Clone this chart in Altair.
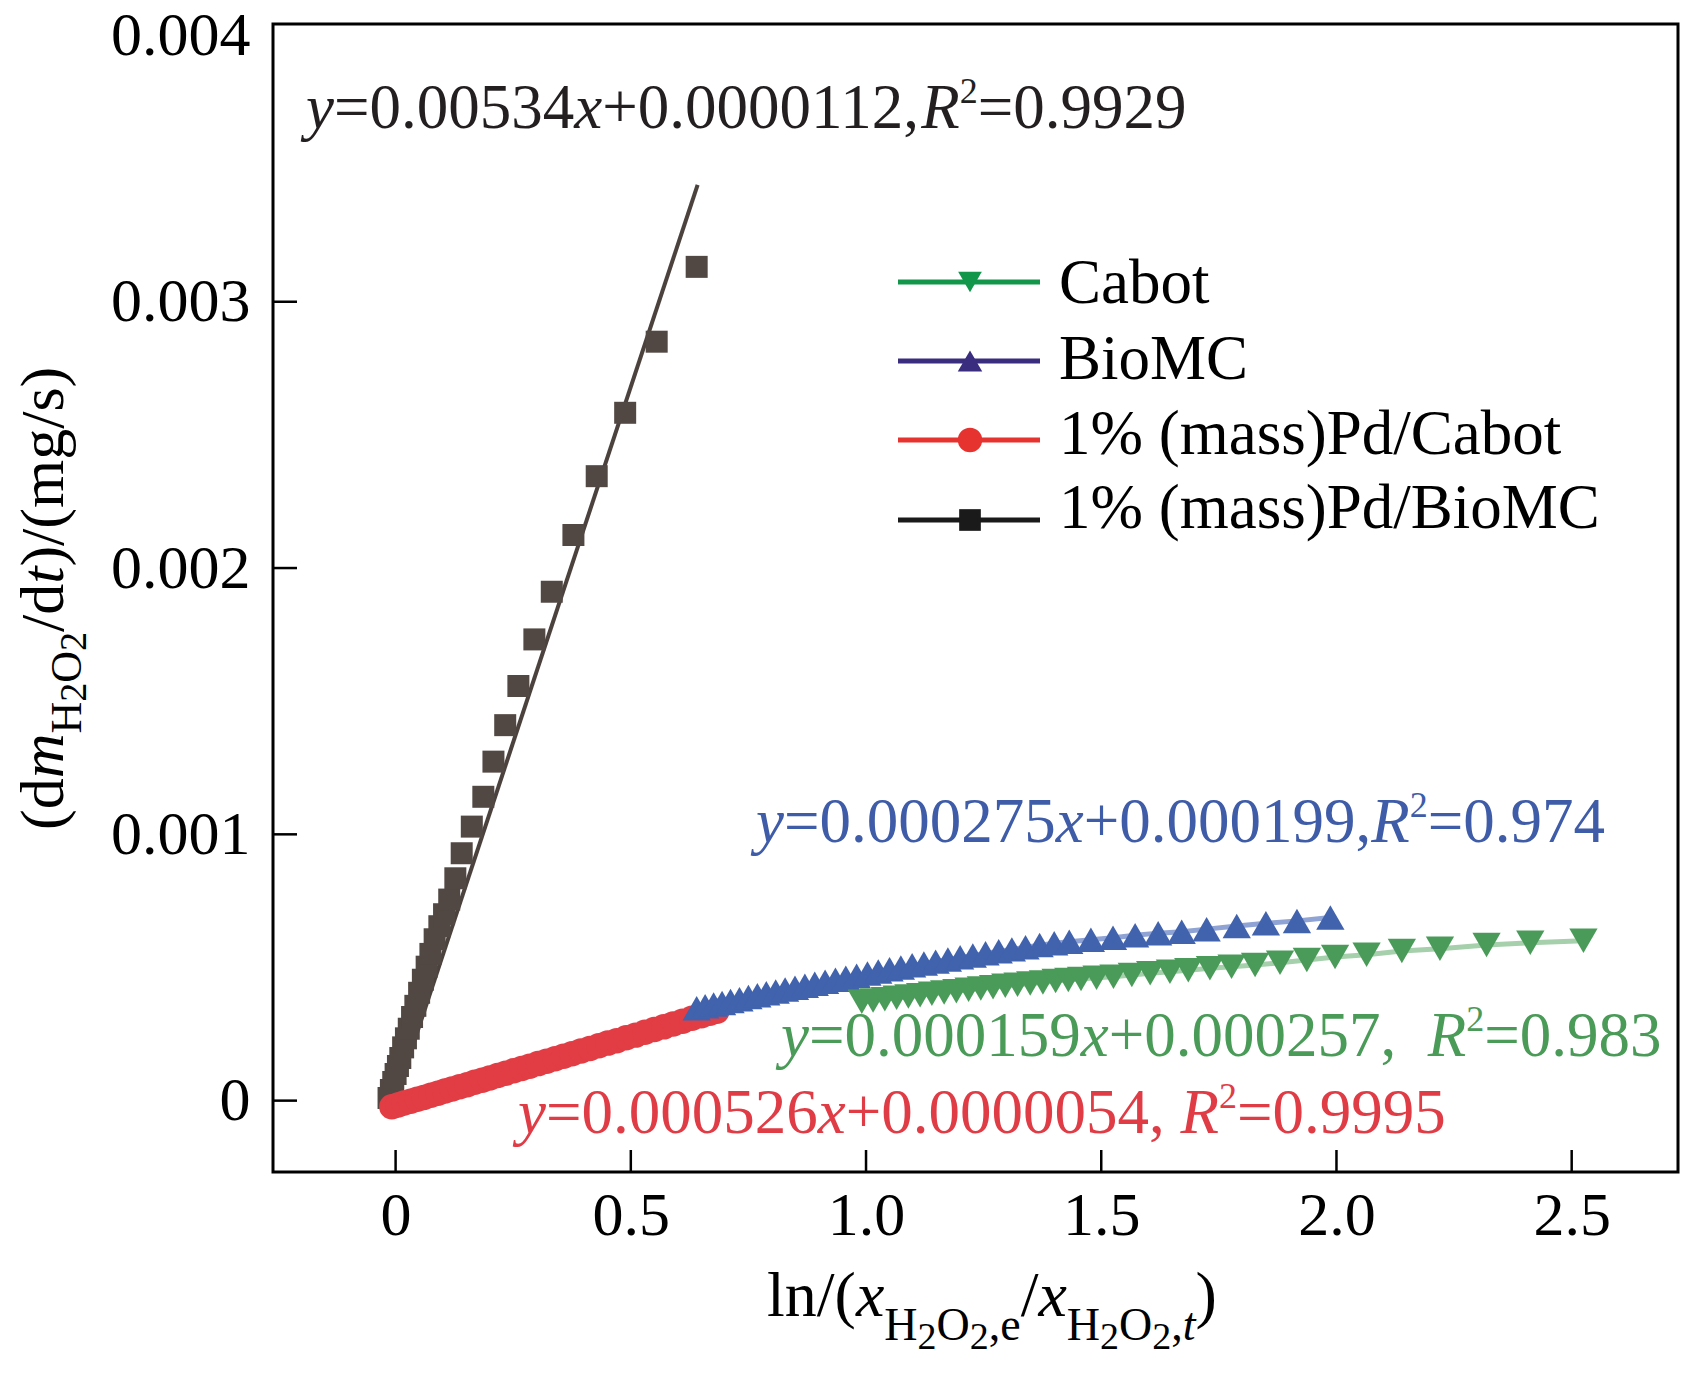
import altair as alt
import pandas as pd

FONT = "Liberation Serif"
W, H = 1405, 1148
X_DOMAIN = [-0.2606, 2.726]
Y_DOMAIN = [-0.000268, 0.004043]

# ---------------- data (y values in units of 1e-3 mg/s) ----------------
pd_biomc_x = [-0.015, -0.010, -0.005, 0.000, 0.005, 0.010, 0.016, 0.022, 0.028, 0.035,
              0.042, 0.050, 0.058, 0.066, 0.074, 0.083, 0.093, 0.103, 0.114, 0.127,
              0.1405, 0.162, 0.1865, 0.208, 0.233, 0.261, 0.295, 0.332, 0.378, 0.4275,
              0.488, 0.555, 0.640]
pd_biomc_y = [0.01, 0.04, 0.07, 0.10, 0.13, 0.16, 0.20, 0.234, 0.27, 0.314,
              0.356, 0.405, 0.454, 0.503, 0.551, 0.606, 0.655, 0.70, 0.755, 0.835,
              0.929, 1.029, 1.141, 1.273, 1.410, 1.557, 1.732, 1.911, 2.124, 2.345,
              2.583, 2.850, 3.131]
pd_biomc_fit_x = [0.0, 0.642]
pd_biomc_fit_y = [0.011, 3.439]

pd_cabot_x = [-0.008, 0.005, 0.018, 0.032, 0.046, 0.060, 0.075, 0.090, 0.105, 0.120,
              0.136, 0.152, 0.168, 0.184, 0.200, 0.217, 0.234, 0.251, 0.268, 0.285,
              0.303, 0.321, 0.339, 0.357, 0.375, 0.394, 0.413, 0.432, 0.451, 0.470,
              0.490, 0.510, 0.530, 0.550, 0.570, 0.590, 0.610, 0.630, 0.650, 0.668, 0.683]
pd_cabot_y = [-0.023, -0.016, -0.009, -0.002, 0.005, 0.012, 0.020, 0.028, 0.036, 0.044,
              0.052, 0.060, 0.069, 0.077, 0.085, 0.094, 0.103, 0.112, 0.121, 0.129,
              0.139, 0.148, 0.157, 0.167, 0.176, 0.186, 0.196, 0.206, 0.216, 0.225,
              0.236, 0.246, 0.257, 0.267, 0.277, 0.288, 0.298, 0.309, 0.319, 0.328, 0.336]

biomc_x = [0.640, 0.658, 0.676, 0.694, 0.712, 0.731, 0.750, 0.769, 0.788, 0.808,
           0.828, 0.849, 0.870, 0.891, 0.913, 0.935, 0.957, 0.980, 1.003, 1.026,
           1.050, 1.074, 1.098, 1.123, 1.148, 1.174, 1.200, 1.227, 1.254, 1.282,
           1.310, 1.339, 1.369, 1.400, 1.432, 1.478, 1.525, 1.572, 1.621, 1.671,
           1.724, 1.788, 1.850, 1.916, 1.987]
biomc_y = [0.347, 0.354, 0.361, 0.367, 0.374, 0.381, 0.389, 0.396, 0.403, 0.410,
           0.417, 0.424, 0.431, 0.439, 0.446, 0.454, 0.461, 0.469, 0.477, 0.485,
           0.493, 0.500, 0.508, 0.515, 0.522, 0.530, 0.538, 0.545, 0.553, 0.561,
           0.568, 0.576, 0.584, 0.591, 0.597, 0.604, 0.612, 0.621, 0.629, 0.634,
           0.644, 0.656, 0.666, 0.675, 0.688]

cabot_x = [0.991, 1.015, 1.040, 1.065, 1.090, 1.115, 1.140, 1.166, 1.192, 1.218,
           1.244, 1.270, 1.296, 1.322, 1.349, 1.376, 1.403, 1.430, 1.457, 1.490,
           1.526, 1.565, 1.604, 1.646, 1.685, 1.731, 1.777, 1.827, 1.880, 1.937,
           1.997, 2.064, 2.139, 2.220, 2.319, 2.412, 2.525]
cabot_y = [0.371, 0.376, 0.381, 0.386, 0.391, 0.396, 0.401, 0.406, 0.411, 0.416,
           0.421, 0.426, 0.431, 0.435, 0.440, 0.444, 0.449, 0.453, 0.457, 0.461,
           0.465, 0.472, 0.478, 0.484, 0.490, 0.497, 0.503, 0.509, 0.518, 0.528,
           0.539, 0.548, 0.562, 0.570, 0.584, 0.593, 0.600]

x_tick_values = [0, 0.5, 1.0, 1.5, 2.0, 2.5]
y_tick_values = [0, 0.001, 0.002, 0.003]
y_label_values = [0, 0.001, 0.002, 0.003, 0.004]

legend_labels = ["Cabot", "BioMC", "1% (mass)Pd/Cabot", "1% (mass)Pd/BioMC"]
legend_shapes = ["triangle-down", "triangle-up", "circle", "square"]
legend_colors = ["#12964a", "#3a2c7e", "#e63330", "#1a1a1a"]


def frame(xs_, ys_):
    return pd.DataFrame({"x": xs_, "y": [v / 1000.0 for v in ys_]})


# ---------------- scales / axes ----------------
xs = alt.Scale(domain=X_DOMAIN, nice=False, zero=False)
ys = alt.Scale(domain=Y_DOMAIN, nice=False, zero=False)
common_axis = dict(title=None, grid=False, domain=False, ticks=False, tickSize=0,
                   labelFont=FONT, labelFontSize=62, labelColor="black",
                   labelFlush=False, labelOverlap=False)
xaxis = alt.Axis(values=x_tick_values, labelPadding=13,
                 labelExpr="datum.value == 0 ? '0' : format(datum.value, '.1f')", **common_axis)
yaxis = alt.Axis(values=y_label_values, labelPadding=23,
                 labelExpr="datum.value == 0 ? '0' : format(datum.value, '.3f')", **common_axis)

X = lambda: alt.X("x:Q", scale=xs, axis=xaxis)
Y = lambda: alt.Y("y:Q", scale=ys, axis=yaxis)
ONE = pd.DataFrame({"a": [0]})

layers = []

# inward ticks
layers.append(alt.Chart(pd.DataFrame({"x": x_tick_values})).mark_rule(color="black", strokeWidth=2.5)
              .encode(x=X(), y=alt.value(H), y2=alt.value(H - 22)))
layers.append(alt.Chart(pd.DataFrame({"y": y_tick_values})).mark_rule(color="black", strokeWidth=2.5)
              .encode(y=Y(), x=alt.value(0), x2=alt.value(24)))

# series
layers.append(alt.Chart(frame(pd_biomc_fit_x, pd_biomc_fit_y)).mark_line(color="#4b423e", strokeWidth=4)
              .encode(x=X(), y=Y()))
layers.append(alt.Chart(frame(pd_biomc_x, pd_biomc_y)).mark_point(shape="square", filled=True, size=484,
              color="#524843", opacity=1, strokeWidth=0).encode(x=X(), y=Y()))
layers.append(alt.Chart(frame(pd_cabot_x, pd_cabot_y)).mark_point(shape="circle", filled=True, size=650,
              color="#e23d44", opacity=1, strokeWidth=0).encode(x=X(), y=Y()))
layers.append(alt.Chart(frame(biomc_x, biomc_y)).mark_line(color="#8fa3d4", strokeWidth=5)
              .encode(x=X(), y=Y()))
layers.append(alt.Chart(frame(biomc_x, biomc_y)).mark_point(shape="triangle-up", filled=True, size=800,
              color="#4162ad", opacity=1, strokeWidth=0).encode(x=X(), y=Y()))
layers.append(alt.Chart(frame(cabot_x, cabot_y)).mark_line(color="#a6d0ac", strokeWidth=5)
              .encode(x=X(), y=Y()))
layers.append(alt.Chart(frame(cabot_x, cabot_y)).mark_point(shape="triangle-down", filled=True, size=800,
              color="#4a9b59", opacity=1, strokeWidth=0).encode(x=X(), y=Y()))

# plot frame
layers.append(alt.Chart(ONE).mark_rect(fillOpacity=0, stroke="black", strokeWidth=3)
              .encode(x=alt.value(0), x2=alt.value(W), y=alt.value(0), y2=alt.value(H)))

# ---------------- rich text helper ----------------
REG = {c: 0.5 for c in "0123456789"}
REG.update({".": 0.25, ",": 0.25, "+": 0.564, "=": 0.564, "(": 0.333, ")": 0.333, "/": 0.278,
            " ": 0.25, "l": 0.278, "n": 0.5, "d": 0.5, "e": 0.444, "H": 0.722, "O": 0.722,
            "m": 0.778, "g": 0.5, "s": 0.389, "t": 0.278})
ITA = {"y": 0.444, "x": 0.444, "R": 0.611, "m": 0.722, "t": 0.278}


def rich(segs, xenc, yenc, color="black", angle=0):
    out = []
    adv = 0.0
    for text, size, italic, shift in segs:
        table = ITA if italic else REG
        kw = dict(text=text, font=FONT, fontSize=size, fontStyle="italic" if italic else "normal",
                  align="left", baseline="alphabetic", dx=adv, dy=shift, color=color)
        if angle:
            kw["angle"] = angle
        out.append(alt.Chart(ONE).mark_text(**kw).encode(x=xenc, y=yenc))
        adv += sum(table.get(ch, 0.5) for ch in text) * size
    return out


def dpos(xv, yv):
    return (alt.XDatum(xv, type="quantitative", scale=xs, axis=xaxis),
            alt.YDatum(yv, type="quantitative", scale=ys, axis=yaxis))


def equation(slope, icpt, r2, size, gap):
    sup = round(size * 0.57)
    return [("y", size, True, 0), ("=" + slope, size, False, 0), ("x", size, True, 0),
            ("+" + icpt + "," + gap, size, False, 0), ("R", size, True, 0),
            ("2", sup, False, -25), ("=" + r2, size, False, 0)]


eqs = [
    (equation("0.00534", "0.0000112", "0.9929", 63, ""), -0.1905, 0.003652, "#231f20"),
    (equation("0.000275", "0.000199", "0.974", 63, ""), 0.7662, 0.000971, "#3f5ca8"),
    (equation("0.000159", "0.000257", "0.983", 63, "  "), 0.8193, 0.0001675, "#4a9a58"),
    (equation("0.000526", "0.0000054", "0.9995", 63, " "), 0.2602, -0.0001217, "#e03c46"),
]
for segs, ax, ay, col in eqs:
    xe, ye = dpos(ax, ay)
    layers += rich(segs, xe, ye, color=col)

# ---------------- axis titles ----------------
M, S, T = 62, 44, 38
ytitle = [("(d", M, False, 0), ("m", M, True, 0), ("H", S, False, 18), ("2", T, False, 23),
          ("O", S, False, 18), ("2", T, False, 23), ("/d", M, False, 0), ("t", M, True, 0),
          (")/(mg/s)", M, False, 0)]
layers += rich(ytitle, alt.value(-210), alt.value(806), angle=270)

M, S, T = 64, 46, 38
xtitle = [("ln/(", M, False, 0), ("x", M, True, 0), ("H", S, False, 24), ("2", T, False, 33),
          ("O", S, False, 24), ("2", T, False, 33), (",e", S, False, 24), ("/", M, False, 0),
          ("x", M, True, 0), ("H", S, False, 24), ("2", T, False, 33), ("O", S, False, 24),
          ("2", T, False, 33), (",", S, False, 24), ("t", S, True, 24), (")", M, False, 0)]
layers += rich(xtitle, alt.value(494), alt.value(1292))

# ---------------- legend ----------------
leg_rows = [258, 337, 416, 496]
leg_text_rows = [258, 334, 409, 483]
marker_sizes = [560, 600, 600, 470]
for lab, shp, col, ry, ty, ms in zip(legend_labels, legend_shapes, legend_colors, leg_rows,
                                     leg_text_rows, marker_sizes):
    layers.append(alt.Chart(ONE).mark_rule(color=col, strokeWidth=5)
                  .encode(x=alt.value(625), x2=alt.value(767), y=alt.value(ry)))
    layers.append(alt.Chart(ONE).mark_point(shape=shp, filled=True, size=ms, color=col, opacity=1,
                  strokeWidth=0).encode(x=alt.value(697), y=alt.value(ry)))
    layers.append(alt.Chart(ONE).mark_text(text=lab, font=FONT, fontSize=63, color="black",
                  align="left", baseline="middle").encode(x=alt.value(786), y=alt.value(ty + 2)))

chart = (alt.layer(*layers)
         .properties(width=W, height=H,
                     padding={"left": 265, "top": 16, "right": 2, "bottom": 196},
                     autosize=alt.AutoSizeParams(type="none"))
         .configure_view(strokeWidth=0)
         .configure(background="white"))

chart.save("out.html", embed_options={"renderer": "svg", "actions": False})
